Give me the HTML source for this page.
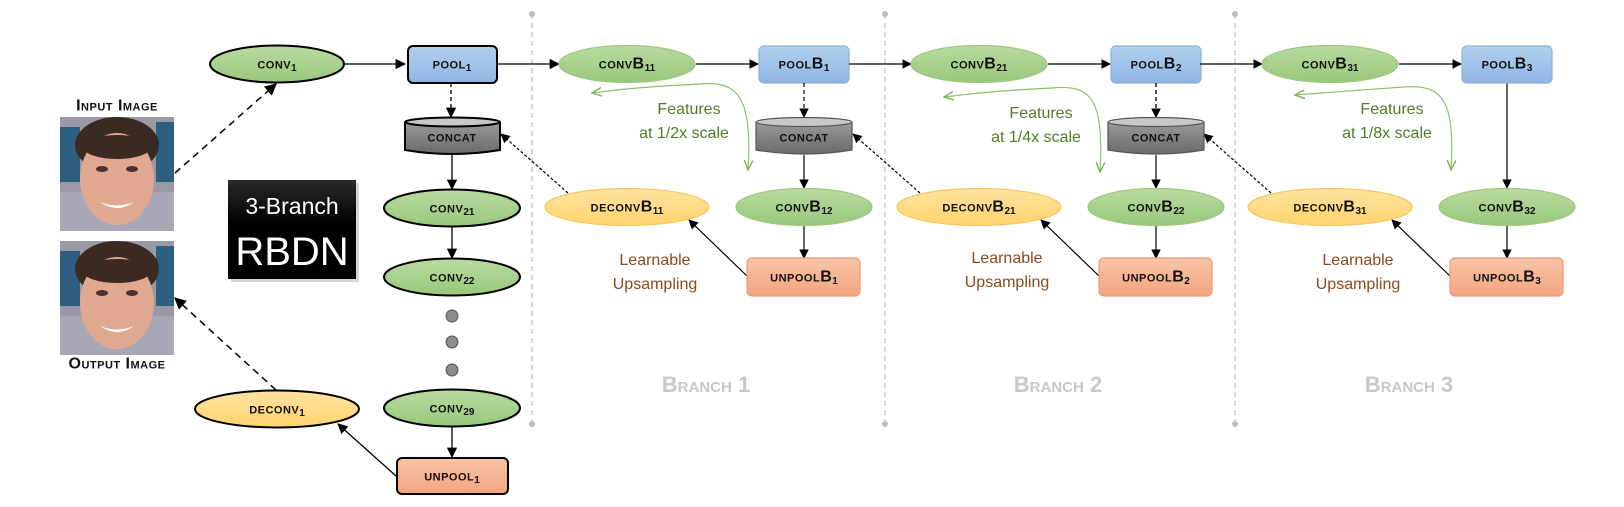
<!DOCTYPE html>
<html><head><meta charset="utf-8"><style>
html,body{margin:0;padding:0;background:#fff;}
svg{display:block;}
.n{font-family:"Liberation Sans",sans-serif;font-weight:bold;font-variant:small-caps;font-size:16px;fill:#111;text-anchor:middle;dominant-baseline:central;letter-spacing:0.5px;}
.s{font-size:10px;letter-spacing:0;}
.g{font-family:"Liberation Sans",sans-serif;font-size:16px;fill:#4f7a2a;text-anchor:middle;}
.b{font-family:"Liberation Sans",sans-serif;font-size:16px;fill:#8a4a1e;text-anchor:middle;}
.br{font-family:"Liberation Sans",sans-serif;font-weight:bold;font-variant:small-caps;font-size:22px;fill:#c8c8c8;text-anchor:middle;}
</style></head><body>
<svg width="1624" height="507" viewBox="0 0 1624 507" xmlns="http://www.w3.org/2000/svg">
<defs>
<linearGradient id="gg" x1="0" y1="0" x2="0" y2="1"><stop offset="0" stop-color="#b9dba1"/><stop offset="1" stop-color="#98c77a"/></linearGradient>
<linearGradient id="gb" x1="0" y1="0" x2="0" y2="1"><stop offset="0" stop-color="#b3d0ee"/><stop offset="1" stop-color="#8db6e2"/></linearGradient>
<linearGradient id="go" x1="0" y1="0" x2="0" y2="1"><stop offset="0" stop-color="#f8c4a6"/><stop offset="1" stop-color="#f3a47f"/></linearGradient>
<linearGradient id="gy" x1="0" y1="0" x2="0" y2="1"><stop offset="0" stop-color="#ffe3a0"/><stop offset="1" stop-color="#ffd46e"/></linearGradient>
<linearGradient id="gc" x1="0" y1="0" x2="0" y2="1"><stop offset="0" stop-color="#9a9a9a"/><stop offset="1" stop-color="#6a6a6a"/></linearGradient>
<linearGradient id="gk" x1="0" y1="0" x2="0" y2="1"><stop offset="0" stop-color="#2a2a2a"/><stop offset="0.45" stop-color="#000"/><stop offset="1" stop-color="#000"/></linearGradient>
<marker id="a" viewBox="0 0 10 10" refX="9" refY="5" markerWidth="8" markerHeight="8" orient="auto-start-reverse"><path d="M0,0L10,5L0,10z" fill="#000"/></marker>
<marker id="ag" viewBox="0 0 10 10" refX="9" refY="5" markerWidth="9" markerHeight="9" orient="auto-start-reverse"><path d="M0,1L9,5L0,9" fill="none" stroke="#7ab356" stroke-width="1.3"/></marker>
<g id="face">
<rect x="0" y="0" width="114" height="114" fill="#9a9aa6"/>
<rect x="0" y="10" width="20" height="55" fill="#2e5f80"/>
<rect x="96" y="5" width="18" height="60" fill="#2e5f80"/>
<rect x="0" y="75" width="114" height="39" fill="#a7a7b5"/>
<ellipse cx="57" cy="28" rx="42" ry="28" fill="#3a2a22"/>
<ellipse cx="57" cy="62" rx="37" ry="46" fill="#e0a890"/>
<ellipse cx="57" cy="30" rx="34" ry="12" fill="#3a2a22"/>
<ellipse cx="42" cy="52" rx="6" ry="3" fill="#4a3030"/>
<ellipse cx="72" cy="52" rx="6" ry="3" fill="#4a3030"/>
<path d="M40,85 Q57,97 74,85 Q57,92 40,85z" fill="#fff"/>
</g>
</defs>

<g stroke="#bdbdbd" stroke-width="1.2" stroke-dasharray="5,4">
<line x1="532" y1="14" x2="532" y2="424"/><line x1="885" y1="14" x2="885" y2="424"/><line x1="1235" y1="14" x2="1235" y2="424"/>
</g>
<g fill="#bdbdbd"><circle cx="532" cy="14" r="3"/><circle cx="532" cy="424" r="3"/><circle cx="885" cy="14" r="3"/><circle cx="885" cy="424" r="3"/><circle cx="1235" cy="14" r="3"/><circle cx="1235" cy="424" r="3"/></g>

<text x="117" y="106" class="n" style="font-size:16px">Input Image</text>
<use href="#face" x="60" y="117"/>
<use href="#face" x="60" y="241"/>
<text x="117" y="364" class="n" style="font-size:16px">Output Image</text>

<rect x="231" y="183" width="128" height="99" fill="#999" opacity="0.4"/>
<rect x="228" y="180" width="128" height="99" fill="url(#gk)"/>
<text x="292" y="214" fill="#fff" font-family="'Liberation Sans',sans-serif" font-size="23" text-anchor="middle">3-Branch</text>
<text x="292" y="265" fill="#fff" font-family="'Liberation Sans',sans-serif" font-size="40" text-anchor="middle">RBDN</text>

<g stroke="#000" stroke-width="1.3" fill="none">
<line x1="345" y1="64" x2="405" y2="64" marker-end="url(#a)"/>
<line x1="497" y1="64" x2="559" y2="64" marker-end="url(#a)"/>
<line x1="451" y1="83" x2="451" y2="117" stroke-dasharray="4,3" marker-end="url(#a)"/>
<line x1="452" y1="155" x2="452" y2="189" marker-end="url(#a)"/>
<line x1="452" y1="227" x2="452" y2="258" marker-end="url(#a)"/>
<line x1="452" y1="427" x2="452" y2="457" marker-end="url(#a)"/>
<line x1="396" y1="476" x2="338" y2="424" marker-end="url(#a)"/>
<line x1="175" y1="173" x2="276" y2="84" stroke-dasharray="7,5" stroke-width="1.5" marker-end="url(#a)"/>
<line x1="276" y1="390" x2="175" y2="298" stroke-dasharray="7,5" stroke-width="1.5" marker-end="url(#a)"/>
</g>
<g fill="#8c8c8c" stroke="#555" stroke-width="1"><circle cx="452" cy="316" r="6"/><circle cx="452" cy="342" r="6"/><circle cx="452" cy="370" r="6"/></g>

<g stroke="#000" stroke-width="2">
<ellipse cx="277" cy="64" rx="67" ry="18.5" fill="url(#gg)"/>
<rect x="408" y="46" width="89" height="37" rx="5" fill="url(#gb)"/>
<ellipse cx="452" cy="208" rx="68" ry="18.5" fill="url(#gg)"/>
<ellipse cx="452" cy="277" rx="68" ry="18.5" fill="url(#gg)"/>
<ellipse cx="452" cy="408" rx="68" ry="18.5" fill="url(#gg)"/>
<ellipse cx="277" cy="409" rx="82" ry="18.5" fill="url(#gy)"/>
<rect x="397" y="458" width="111" height="36" rx="5" fill="url(#go)"/>
<path d="M405,122 L405,150 Q452,158 500,150 L500,122" fill="url(#gc)"/>
<ellipse cx="452.5" cy="122" rx="47.5" ry="4.5" fill="#c8c8c8"/>
</g>
<text x="277" y="64" class="n">conv<tspan class="s" dy="4">1</tspan></text>
<text x="452" y="64" class="n">pool<tspan class="s" dy="4">1</tspan></text>
<text x="452" y="137" class="n">concat</text>
<text x="452" y="208" class="n">conv<tspan class="s" dy="4">21</tspan></text>
<text x="452" y="277" class="n">conv<tspan class="s" dy="4">22</tspan></text>
<text x="452" y="408" class="n">conv<tspan class="s" dy="4">29</tspan></text>
<text x="277" y="409" class="n">deconv<tspan class="s" dy="4">1</tspan></text>
<text x="452" y="476" class="n">unpool<tspan class="s" dy="4">1</tspan></text>

<g>
<g stroke="#000" stroke-width="1.2" fill="none">
<line x1="696" y1="64" x2="758" y2="64" marker-end="url(#a)"/>
<line x1="804" y1="155" x2="804" y2="188" marker-end="url(#a)"/>
<line x1="804" y1="226" x2="804" y2="258" marker-end="url(#a)"/>
<line x1="747" y1="276" x2="689" y2="220" marker-end="url(#a)"/>
<line x1="568" y1="193" x2="501" y2="134" stroke-dasharray="3,2" marker-end="url(#a)"/>
</g>
<path d="M748,170 C752,100 740,80 700,84 C660,86 630,88 592,93" fill="none" stroke="#8cc06a" stroke-width="1.2" marker-start="url(#ag)" marker-end="url(#ag)"/>
<g stroke-width="1.2">
<ellipse cx="627" cy="64" rx="68" ry="18.5" fill="url(#gg)" stroke="#9cc97f"/>
<ellipse cx="804" cy="207" rx="68" ry="18.5" fill="url(#gg)" stroke="#9cc97f"/>
<ellipse cx="627" cy="207" rx="82" ry="18.5" fill="url(#gy)" stroke="#f5c860"/>
<rect x="759" y="46" width="90" height="37" rx="5" fill="url(#gb)" stroke="#8ab0dc"/>
<rect x="747" y="258" width="113" height="38" rx="5" fill="url(#go)" stroke="#eb9a74"/>
</g>
<text x="627" y="64" class="n">convB<tspan class="s" dy="4">11</tspan></text>
<text x="804" y="64" class="n">poolB<tspan class="s" dy="4">1</tspan></text>
<text x="804" y="207" class="n">convB<tspan class="s" dy="4">12</tspan></text>
<text x="627" y="207" class="n">deconvB<tspan class="s" dy="4">11</tspan></text>
<text x="804" y="277" class="n">unpoolB<tspan class="s" dy="4">1</tspan></text>
<text x="689" y="114" class="g">Features</text>
<text x="684" y="138" class="g">at 1/2x scale</text>
<text x="655" y="265" class="b">Learnable</text>
<text x="655" y="289" class="b">Upsampling</text>
<text x="706" y="392" class="br">Branch 1</text>
</g>

<g transform="translate(352,0)">
<g stroke="#000" stroke-width="1.2" fill="none">
<line x1="696" y1="64" x2="758" y2="64" marker-end="url(#a)"/>
<line x1="804" y1="155" x2="804" y2="188" marker-end="url(#a)"/>
<line x1="804" y1="226" x2="804" y2="258" marker-end="url(#a)"/>
<line x1="747" y1="276" x2="689" y2="220" marker-end="url(#a)"/>
<line x1="568" y1="193" x2="501" y2="134" stroke-dasharray="3,2" marker-end="url(#a)"/>
<line x1="497" y1="64" x2="559" y2="64" marker-end="url(#a)"/>
<line x1="804" y1="83" x2="804" y2="117" stroke-dasharray="4,3" marker-end="url(#a)"/>
</g>
<path d="M748,172 C752,100 740,84 700,88 C660,90 630,92 592,97" fill="none" stroke="#8cc06a" stroke-width="1.2" marker-start="url(#ag)" marker-end="url(#ag)"/>
<g stroke-width="1.2">
<ellipse cx="627" cy="64" rx="68" ry="18.5" fill="url(#gg)" stroke="#9cc97f"/>
<ellipse cx="804" cy="207" rx="68" ry="18.5" fill="url(#gg)" stroke="#9cc97f"/>
<ellipse cx="627" cy="207" rx="82" ry="18.5" fill="url(#gy)" stroke="#f5c860"/>
<rect x="759" y="46" width="90" height="37" rx="5" fill="url(#gb)" stroke="#8ab0dc"/>
<rect x="747" y="258" width="113" height="38" rx="5" fill="url(#go)" stroke="#eb9a74"/>
</g>
<text x="627" y="64" class="n">convB<tspan class="s" dy="4">21</tspan></text>
<text x="804" y="64" class="n">poolB<tspan class="s" dy="4">2</tspan></text>
<text x="804" y="207" class="n">convB<tspan class="s" dy="4">22</tspan></text>
<text x="627" y="207" class="n">deconvB<tspan class="s" dy="4">21</tspan></text>
<text x="804" y="277" class="n">unpoolB<tspan class="s" dy="4">2</tspan></text>
<text x="689" y="118" class="g">Features</text>
<text x="684" y="142" class="g">at 1/4x scale</text>
<text x="655" y="263" class="b">Learnable</text>
<text x="655" y="287" class="b">Upsampling</text>
<text x="706" y="392" class="br">Branch 2</text>
</g>

<g transform="translate(703,0)">
<g stroke="#000" stroke-width="1.2" fill="none">
<line x1="696" y1="64" x2="758" y2="64" marker-end="url(#a)"/>
<line x1="804" y1="83" x2="804" y2="188" marker-end="url(#a)"/>
<line x1="804" y1="226" x2="804" y2="258" marker-end="url(#a)"/>
<line x1="747" y1="276" x2="689" y2="220" marker-end="url(#a)"/>
<line x1="568" y1="193" x2="501" y2="134" stroke-dasharray="3,2" marker-end="url(#a)"/>
<line x1="497" y1="64" x2="559" y2="64" marker-end="url(#a)"/>
<line x1="453" y1="83" x2="453" y2="117" stroke-dasharray="4,3" marker-end="url(#a)"/>
</g>
<path d="M748,170 C752,100 740,84 700,87 C660,90 630,92 592,95" fill="none" stroke="#8cc06a" stroke-width="1.2" marker-start="url(#ag)" marker-end="url(#ag)"/>
<g stroke-width="1.2">
<ellipse cx="627" cy="64" rx="68" ry="18.5" fill="url(#gg)" stroke="#9cc97f"/>
<ellipse cx="804" cy="207" rx="68" ry="18.5" fill="url(#gg)" stroke="#9cc97f"/>
<ellipse cx="627" cy="207" rx="82" ry="18.5" fill="url(#gy)" stroke="#f5c860"/>
<rect x="759" y="46" width="90" height="37" rx="5" fill="url(#gb)" stroke="#8ab0dc"/>
<rect x="747" y="258" width="113" height="38" rx="5" fill="url(#go)" stroke="#eb9a74"/>
</g>
<text x="627" y="64" class="n">convB<tspan class="s" dy="4">31</tspan></text>
<text x="804" y="64" class="n">poolB<tspan class="s" dy="4">3</tspan></text>
<text x="804" y="207" class="n">convB<tspan class="s" dy="4">32</tspan></text>
<text x="627" y="207" class="n">deconvB<tspan class="s" dy="4">31</tspan></text>
<text x="804" y="277" class="n">unpoolB<tspan class="s" dy="4">3</tspan></text>
<text x="689" y="114" class="g">Features</text>
<text x="684" y="138" class="g">at 1/8x scale</text>
<text x="655" y="265" class="b">Learnable</text>
<text x="655" y="289" class="b">Upsampling</text>
<text x="706" y="392" class="br">Branch 3</text>
</g>

<g stroke="#555" stroke-width="1.2">
<path d="M756,122 L756,150 Q804,158 852,150 L852,122" fill="url(#gc)"/>
<ellipse cx="804" cy="122" rx="48" ry="4.5" fill="#c8c8c8"/>
<path d="M1108,122 L1108,150 Q1156,158 1204,150 L1204,122" fill="url(#gc)"/>
<ellipse cx="1156" cy="122" rx="48" ry="4.5" fill="#c8c8c8"/>
</g>
<text x="804" y="137" class="n">concat</text>
<text x="1156" y="137" class="n">concat</text>
<line x1="804" y1="83" x2="804" y2="117" stroke="#000" stroke-width="1.2" stroke-dasharray="4,3" marker-end="url(#a)"/>
</svg>
</body></html>
